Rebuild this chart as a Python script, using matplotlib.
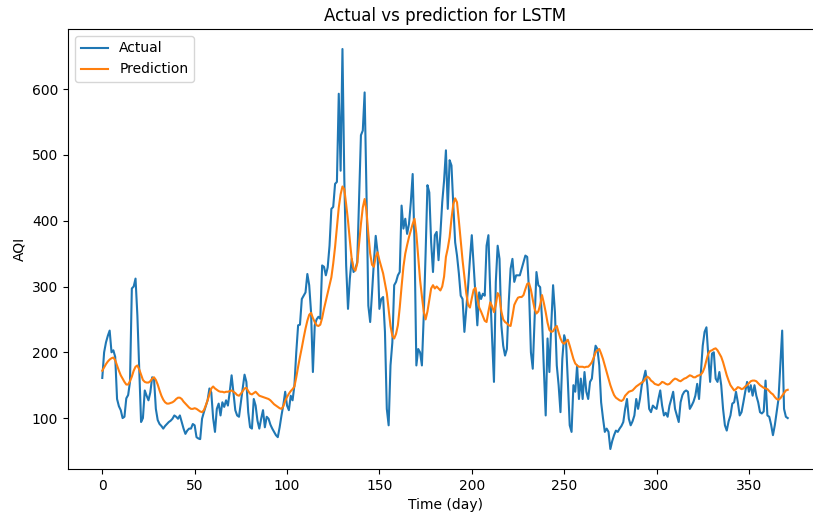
import matplotlib
matplotlib.use("Agg")
import matplotlib.pyplot as plt
import numpy as np

actual = [
161, 200, 215, 225, 233, 200, 203, 193, 129, 118,
112, 100, 102, 130, 135, 155, 297, 300, 312, 256,
175, 94, 100, 142, 134, 127, 139, 162, 160, 114,
97, 91, 88, 84, 88, 91, 94, 96, 99, 104,
102, 99, 104, 94, 84, 76, 81, 84, 84, 91,
89, 71, 69, 68, 99, 109, 118, 127, 145, 139,
100, 79, 114, 122, 104, 124, 117, 127, 119, 140,
165, 139, 112, 104, 102, 124, 145, 166, 155, 109,
86, 84, 129, 119, 96, 84, 99, 112, 86, 102,
99, 90, 84, 79, 74, 71, 86, 104, 120, 140,
119, 112, 134, 127, 150, 200, 241, 242, 281, 286,
291, 319, 302, 261, 170, 241, 250, 254, 251, 332,
330, 317, 329, 362, 418, 421, 456, 459, 593, 476,
661, 464, 332, 266, 312, 342, 322, 327, 337, 433,
530, 537, 595, 443, 271, 246, 290, 337, 377, 352,
266, 281, 284, 231, 114, 89, 180, 215, 302, 307,
317, 322, 423, 388, 403, 380, 395, 428, 471, 367,
180, 205, 200, 180, 256, 350, 454, 443, 367, 322,
378, 383, 340, 380, 428, 461, 507, 418, 492, 484,
423, 367, 347, 320, 286, 281, 231, 266, 300, 342,
378, 332, 286, 241, 291, 281, 289, 286, 362, 378,
291, 220, 155, 307, 362, 342, 241, 210, 195, 205,
276, 327, 342, 307, 317, 317, 317, 327, 337, 347,
345, 291, 200, 175, 251, 322, 302, 299, 251, 175,
104, 221, 170, 241, 302, 261, 180, 150, 109, 190,
226, 216, 155, 89, 79, 150, 140, 180, 129, 160,
129, 170, 140, 129, 155, 160, 190, 210, 205, 180,
124, 100, 79, 84, 79, 53, 65, 74, 81, 79,
84, 88, 94, 114, 129, 99, 89, 95, 104, 129,
114, 129, 150, 160, 172, 150, 114, 109, 119, 116,
114, 129, 142, 119, 104, 108, 102, 119, 129, 140,
114, 104, 94, 124, 135, 140, 142, 140, 114, 119,
125, 134, 152, 129, 170, 210, 231, 238, 195, 155,
198, 200, 160, 155, 170, 150, 114, 89, 81, 95,
104, 122, 124, 140, 124, 104, 109, 124, 140, 155,
140, 150, 134, 150, 134, 124, 109, 107, 110, 157,
104, 102, 90, 74, 89, 109, 129, 180, 233, 114,
102, 100,
]

prediction = [
172, 177, 182, 186, 189, 191, 192, 188, 180, 172,
165, 160, 155, 151, 151, 156, 163, 172, 178, 180,
174, 166, 158, 155, 154, 154, 156, 160, 162, 158,
151, 142, 134, 128, 124, 122, 122, 123, 124, 126,
129, 131, 131, 129, 125, 122, 119, 116, 114, 114,
115, 114, 112, 110, 109, 112, 119, 127, 136, 145,
148, 145, 143, 141, 140, 140, 139, 140, 140, 141,
142, 140, 138, 135, 134, 137, 141, 145, 146, 141,
137, 136, 138, 140, 137, 134, 133, 132, 131, 130,
129, 127, 124, 121, 119, 117, 115, 114, 118, 126,
132, 137, 141, 144, 148, 162, 178, 193, 207, 222,
236, 248, 257, 260, 252, 246, 241, 240, 242, 252,
266, 278, 290, 302, 314, 335, 360, 390, 420, 440,
452, 448, 425, 400, 370, 342, 328, 324, 335, 365,
395, 420, 433, 415, 380, 350, 333, 330, 345, 352,
340, 330, 320, 305, 290, 265, 240, 225, 221, 228,
241, 268, 300, 330, 350, 363, 375, 385, 395, 403,
380, 345, 310, 285, 262, 250, 262, 280, 297, 302,
297, 300, 297, 294, 300, 315, 345, 358, 375, 403,
425, 434, 428, 400, 370, 340, 315, 290, 272, 268,
282, 295, 298, 282, 268, 262, 255, 248, 246, 262,
276, 270, 261, 272, 290, 285, 262, 250, 246, 244,
241, 240, 255, 272, 278, 283, 284, 284, 287, 296,
304, 305, 295, 280, 266, 259, 262, 272, 287, 275,
261, 245, 234, 231, 232, 237, 240, 230, 221, 215,
213, 216, 219, 210, 200, 190, 183, 180, 178, 178,
178, 177, 178, 178, 181, 185, 192, 200, 203, 205,
198, 190, 180, 170, 160, 150, 142, 135, 131, 129,
127, 126, 128, 134, 137, 140, 141, 142, 145, 148,
150, 152, 154, 156, 160, 163, 161, 157, 155, 152,
151, 150, 152, 155, 154, 152, 151, 152, 155, 158,
160, 159, 157, 156, 158, 160, 161, 163, 165, 164,
162, 162, 164, 165, 166, 170, 177, 188, 198, 202,
203, 205, 206, 203, 198, 193, 185, 175, 165, 157,
150, 146, 142, 144, 147, 146, 144, 145, 148, 150,
153, 156, 157, 157, 156, 153, 150, 148, 146, 145,
144, 141, 138, 136, 132, 129, 128, 130, 134, 138,
142, 143,
]

days = np.arange(len(actual))

W, H = 813, 513
dpi = 100
fig = plt.figure(figsize=(W / dpi, H / dpi), dpi=dpi)
ax = fig.add_axes([68 / W, 1 - 469 / H, (822 - 68) / W, (469 - 29) / H])
ax.plot(days, actual, label="Actual")
ax.plot(days, prediction, label="Prediction")
ax.set_title("Actual vs prediction for LSTM")
ax.set_xlabel("Time (day)")
ax.set_ylabel("AQI")
ax.legend(loc="upper left")
fig.savefig("out.png", dpi=dpi)
